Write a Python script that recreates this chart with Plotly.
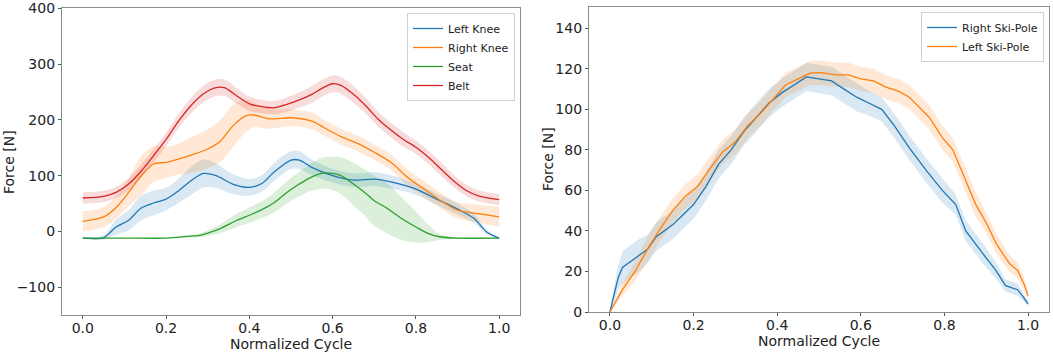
import plotly.graph_objects as go

# ---------------- data: left panel ----------------
LK_t = [0, 0.05, 0.08, 0.11, 0.14, 0.17, 0.2, 0.23, 0.26, 0.29, 0.32, 0.36, 0.40, 0.43, 0.46, 0.5, 0.52, 0.55, 0.6, 0.65, 0.7, 0.74, 0.8, 0.85, 0.9, 0.94, 0.97, 1.0]
LK_v = [-12, -11, 8, 20, 42, 51, 58, 73, 91, 104, 100, 85, 79, 86, 107, 128, 128, 115, 100, 92, 94, 89, 76, 58, 40, 23, -1, -12]
LK_hw = [1, 4, 14, 18, 22, 22, 20, 22, 25, 25, 22, 18, 15, 15, 16, 16, 16, 14, 12, 12, 12, 12, 10, 10, 10, 8, 4, 1]

RK_t = [0, 0.05, 0.08, 0.11, 0.14, 0.17, 0.2, 0.23, 0.26, 0.3, 0.33, 0.36, 0.39, 0.41, 0.45, 0.5, 0.55, 0.58, 0.62, 0.66, 0.7, 0.74, 0.78, 0.82, 0.86, 0.9, 0.95, 1.0]
RK_v = [18, 26, 43, 70, 100, 121, 124, 130, 137, 148, 162, 189, 207, 209, 202, 204, 198, 186, 170, 158, 142, 124, 97, 76, 55, 38, 32, 26]
RK_hw = [18, 18, 20, 25, 35, 32, 28, 28, 32, 35, 38, 38, 30, 22, 18, 15, 15, 14, 14, 14, 14, 14, 14, 14, 14, 15, 16, 18]

S_t = [0, 0.1, 0.2, 0.25, 0.28, 0.3, 0.33, 0.37, 0.40, 0.43, 0.46, 0.49, 0.52, 0.55, 0.58, 0.6, 0.62, 0.65, 0.68, 0.7, 0.73, 0.76, 0.8, 0.83, 0.86, 0.9, 1.0]
S_v = [-12, -12, -12, -9, -7, -3, 5, 20, 29, 39, 52, 70, 85, 98, 105, 104, 100, 85, 68, 55, 42, 26, 8, -4, -10, -12, -12]
S_hw = [0, 0, 0, 2, 3, 5, 8, 12, 14, 15, 18, 20, 22, 25, 28, 30, 33, 38, 42, 45, 45, 40, 28, 15, 5, 1, 0]

B_t = [0, 0.05, 0.08, 0.11, 0.14, 0.17, 0.2, 0.23, 0.26, 0.29, 0.32, 0.34, 0.37, 0.40, 0.43, 0.46, 0.49, 0.52, 0.55, 0.58, 0.6, 0.62, 0.65, 0.68, 0.71, 0.74, 0.77, 0.8, 0.83, 0.86, 0.89, 0.92, 0.95, 1.0]
B_v = [60, 63, 70, 85, 108, 136, 165, 198, 226, 247, 258, 258, 243, 229, 224, 222, 228, 236, 246, 259, 265, 262, 246, 225, 201, 182, 165, 151, 133, 112, 91, 74, 64, 57]
B_hw = [10, 10, 10, 11, 12, 12, 12, 13, 14, 15, 15, 15, 14, 13, 12, 12, 13, 14, 15, 15, 15, 15, 15, 14, 13, 13, 13, 12, 12, 12, 11, 10, 10, 10]

# ---------------- data: right panel ----------------
RS_t = [0, 0.01, 0.02, 0.03, 0.05, 0.07, 0.09, 0.11, 0.13, 0.15, 0.17, 0.2, 0.23, 0.26, 0.29, 0.32, 0.35, 0.38, 0.41, 0.44, 0.47, 0.5, 0.53, 0.56, 0.59, 0.62, 0.65, 0.68, 0.716, 0.756, 0.795, 0.827, 0.851, 0.891, 0.923, 0.946, 0.975, 0.99, 1.0]
RS_v = [0, 9, 17, 22, 25, 28, 31, 37, 40, 43, 47, 53, 62, 73, 80, 89, 96, 103, 108, 112, 116, 115, 114, 110, 106, 103, 100, 92, 81, 70, 60, 53, 40, 29, 20.5, 13, 11, 7, 4]
RS_hw = [0, 4, 6, 8, 8, 8, 7, 7, 7, 7, 7, 7, 7, 7, 7, 7, 7, 7, 7, 7, 7, 7, 7, 7, 7, 6, 6, 6, 6, 6, 6, 5, 5, 5, 4, 3, 3, 2, 1]

LS_t = [0, 0.03, 0.06, 0.09, 0.12, 0.15, 0.18, 0.21, 0.24, 0.27, 0.3, 0.33, 0.36, 0.39, 0.42, 0.45, 0.48, 0.51, 0.54, 0.57, 0.6, 0.63, 0.66, 0.69, 0.716, 0.764, 0.795, 0.82, 0.85, 0.875, 0.9, 0.923, 0.955, 0.975, 0.99, 1.0]
LS_v = [0, 11, 20, 31, 41, 50, 57, 62, 71, 79, 84, 92, 98, 105, 112, 115, 118, 118, 117, 117, 115, 114, 111, 109, 106, 96, 86, 80, 65, 53, 44, 34, 24, 20.5, 14, 8]
LS_hw = [0, 3, 5, 6, 6, 6, 6, 6, 6, 6, 6, 6, 6, 6, 6, 6, 6, 6, 6, 6, 6, 6, 6, 6, 6, 6, 6, 6, 6, 6, 5, 5, 4, 4, 3, 2]

X_TICKS = [0.0, 0.2, 0.4, 0.6, 0.8, 1.0]
Y_TICKS_L = [-100, 0, 100, 200, 300, 400]
Y_TICKS_R = [0, 20, 40, 60, 80, 100, 120, 140]

BLUE, ORANGE, GREEN, RED = "#1f77b4", "#ff7f0e", "#2ca02c", "#d62728"

W, H = 1053, 354


def rgba(hexc, a):
    h = hexc.lstrip("#")
    return "rgba(%d,%d,%d,%s)" % (int(h[0:2], 16), int(h[2:4], 16), int(h[4:6], 16), a)


fig = go.Figure()


def add_band(t, v, hw, color, xa, ya, shape):
    lo = [a - b for a, b in zip(v, hw)]
    hi = [a + b for a, b in zip(v, hw)]
    fig.add_trace(go.Scatter(x=t, y=lo, mode="lines", line=dict(width=0, shape=shape),
                             showlegend=False, hoverinfo="skip", xaxis=xa, yaxis=ya))
    fig.add_trace(go.Scatter(x=t, y=hi, mode="lines", line=dict(width=0, shape=shape),
                             fill="tonexty", fillcolor=rgba(color, 0.17),
                             showlegend=False, hoverinfo="skip", xaxis=xa, yaxis=ya))


left = [("Left Knee", LK_t, LK_v, LK_hw, BLUE),
        ("Right Knee", RK_t, RK_v, RK_hw, ORANGE),
        ("Seat", S_t, S_v, S_hw, GREEN),
        ("Belt", B_t, B_v, B_hw, RED)]
right = [("Right Ski-Pole", RS_t, RS_v, RS_hw, BLUE),
         ("Left Ski-Pole", LS_t, LS_v, LS_hw, ORANGE)]

for name, t, v, hw, c in left:
    add_band(t, v, hw, c, "x", "y", "spline")
for name, t, v, hw, c in left:
    fig.add_trace(go.Scatter(x=t, y=v, mode="lines", name=name,
                             line=dict(color=c, width=1.3, shape="spline", smoothing=0.8),
                             xaxis="x", yaxis="y", legend="legend"))
for name, t, v, hw, c in right:
    add_band(t, v, hw, c, "x2", "y2", "linear")
for name, t, v, hw, c in right:
    fig.add_trace(go.Scatter(x=t, y=v, mode="lines", name=name,
                             line=dict(color=c, width=1.3),
                             xaxis="x2", yaxis="y2", legend="legend2"))

FONT = "DejaVu Sans"
axis_common = dict(showline=True, mirror=True, linecolor="#8c8c8c", linewidth=1.2,
                   ticks="outside", ticklen=3, tickcolor="#555", showgrid=False,
                   zeroline=False, automargin=False,
                   tickfont=dict(family=FONT, size=14, color="#222"))

fig.update_layout(
    width=W, height=H,
    margin=dict(l=0, r=0, t=0, b=0),
    paper_bgcolor="white", plot_bgcolor="white",
    font=dict(family=FONT, color="#222"),
    xaxis=dict(domain=[62 / W, 520 / W], range=[-0.05, 1.05], tickvals=X_TICKS,
               tickformat=".1f", anchor="y", ticklabelstandoff=-3, **axis_common),
    yaxis=dict(domain=[(H - 315) / H, (H - 8) / H], range=[-150, 401], tickvals=Y_TICKS_L,
               anchor="x", **axis_common),
    xaxis2=dict(domain=[589 / W, 1049 / W], range=[-0.05, 1.05], tickvals=X_TICKS,
                tickformat=".1f", anchor="y2", ticklabelstandoff=-3, **axis_common),
    yaxis2=dict(domain=[(H - 312) / H, (H - 7) / H], range=[0, 150.5], tickvals=Y_TICKS_R,
                anchor="x2", **axis_common),
    legend=dict(x=515 / W, xanchor="right", y=1 - 13 / H, yanchor="top", traceorder="normal",
                bgcolor="rgba(255,255,255,0.85)", bordercolor="#d0d0d0", borderwidth=1,
                font=dict(family=FONT, size=11), tracegroupgap=0, itemwidth=30),
    legend2=dict(x=1044 / W, xanchor="right", y=1 - 12 / H, yanchor="top", traceorder="normal",
                 bgcolor="rgba(255,255,255,0.85)", bordercolor="#d0d0d0", borderwidth=1,
                 font=dict(family=FONT, size=11), tracegroupgap=0, itemwidth=30),
)

# axis titles placed as text in paper coordinates
title_font = dict(family=FONT, size=14, color="#222")
fig.add_annotation(text="Normalized Cycle", x=291 / W, y=1 - 344 / H, xref="paper", yref="paper",
                   showarrow=False, font=title_font, xanchor="center", yanchor="middle", borderpad=0)
fig.add_annotation(text="Normalized Cycle", x=819 / W, y=1 - 341 / H, xref="paper", yref="paper",
                   showarrow=False, font=title_font, xanchor="center", yanchor="middle", borderpad=0)
fig.add_annotation(text="Force [N]", x=9 / W, y=1 - 162 / H, xref="paper", yref="paper",
                   showarrow=False, font=title_font, textangle=-90, xanchor="center", yanchor="middle", borderpad=0)
fig.add_annotation(text="Force [N]", x=548 / W, y=1 - 159 / H, xref="paper", yref="paper",
                   showarrow=False, font=title_font, textangle=-90, xanchor="center", yanchor="middle", borderpad=0)

fig.write_html("out.html", config={"displayModeBar": False},
               post_script="document.body.style.margin='0';document.body.style.overflow='hidden';")
